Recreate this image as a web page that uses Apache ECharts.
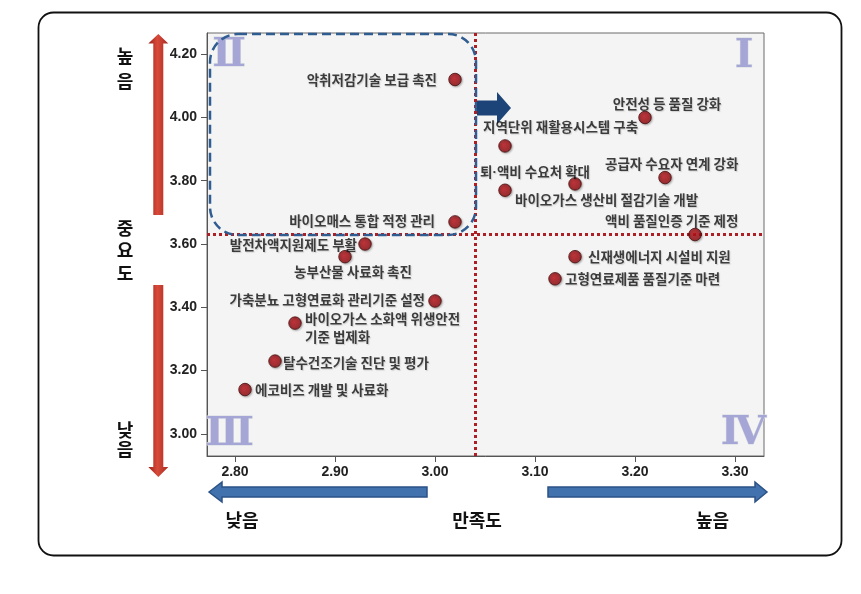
<!DOCTYPE html>
<html><head><meta charset="utf-8">
<script src="https://cdn.jsdelivr.net/npm/echarts@6/dist/echarts.min.js"></script>
<style>html,body{margin:0;padding:0;background:#fff}#c{width:861px;height:594px}</style>
</head><body><div id="c"></div>
<script>
// ---- data ----
const itemNames = [
  '악취저감기술 보급 촉진',
  '바이오매스 통합 적정 관리',
  '발전차액지원제도 부활',
  '농부산물 사료화 촉진',
  '가축분뇨 고형연료화 관리기준 설정',
  '바이오가스 소화액 위생안전\n기준 법제화',
  '탈수건조기술 진단 및 평가',
  '에코비즈 개발 및 사료화',
  '안전성 등 품질 강화',
  '지역단위 재활용시스템 구축',
  '퇴·액비 수요처 확대',
  '바이오가스 생산비 절감기술 개발',
  '공급자 수요자 연계 강화',
  '액비 품질인증 기준 제정',
  '신재생에너지 시설비 지원',
  '고형연료제품 품질기준 마련'
];
const satisfaction = [3.02, 3.02, 2.93, 2.91, 3.00, 2.86, 2.84, 2.81, 3.21, 3.07, 3.07, 3.14, 3.23, 3.26, 3.14, 3.12];
const importance   = [4.12, 3.67, 3.60, 3.56, 3.42, 3.35, 3.23, 3.14, 4.00, 3.91, 3.77, 3.79, 3.81, 3.63, 3.56, 3.49];
const xTicks = [2.8, 2.9, 3.0, 3.1, 3.2, 3.3];
const yTicks = [3.0, 3.2, 3.4, 3.6, 3.8, 4.0, 4.2];
const satisfactionMean = 3.04;
const importanceMean = 3.63;
const xTitle = '만족도', lowText = '낮음', highText = '높음', yTitle = '중요도';
const quadrantNames = ['Ⅰ', 'Ⅱ', 'Ⅲ', 'Ⅳ'];

// ---- label layout (px offsets from point centre) ----
const labelLayout = [
  {align:'right',  off:[-18, 0]},
  {align:'right',  off:[-20, -1]},
  {align:'right',  off:[-8, 1]},
  {align:'center', off:[8, 15]},
  {align:'right',  off:[-10, -1]},
  {align:'left',   off:[10, 5]},
  {align:'left',   off:[8, 2]},
  {align:'left',   off:[10, 0]},
  {align:'center', off:[22, -14]},
  {align:'left',   off:[-22, -19]},
  {align:'left',   off:[-25, -18]},
  {align:'left',   off:[-60, 16]},
  {align:'left',   off:[-60, -14]},
  {align:'left',   off:[-90, -14]},
  {align:'left',   off:[13, 0]},
  {align:'left',   off:[10, 0]}
];

const KR = '"Noto Sans CJK KR", "Noto Sans", sans-serif';
const chart = echarts.init(document.getElementById('c'), null, {renderer:'canvas'});

const points = itemNames.map((n, i) => ({
  name: n,
  value: [satisfaction[i], importance[i]],
  label: {
    show: true, formatter: n.replace('·', '{d|·}'), position: 'inside',
    align: labelLayout[i].align, verticalAlign: 'middle',
    offset: labelLayout[i].off,
    fontFamily: KR, fontSize: 13.5, fontWeight: 'bold', color: '#111',
    lineHeight: 18,
    textShadowColor: 'rgba(0,0,0,0.18)', textShadowBlur: 1, textShadowOffsetX: 1, textShadowOffsetY: 1,
    rich: { d: { fontFamily: '"Liberation Sans", Arial, sans-serif', fontSize: 13.5, fontWeight: 'bold', color: '#111' } }
  }
}));

const redGrad = new echarts.graphic.LinearGradient(0, 0, 1, 0, [
  {offset:0, color:'#9c1f18'}, {offset:0.45, color:'#d84a3a'}, {offset:1, color:'#a82a20'}
]);
const numStyle = (txt, x, y, fs) => ({
  type:'text', z: 3, x, y,
  style: { text: txt, fontFamily: '"DejaVu Serif", "Liberation Serif", serif', fontSize: fs, fontWeight:'bold',
    fill: '#a6a6d6', stroke: '#d6dce0', lineWidth: 1,
    align:'center', verticalAlign:'middle' }
});
const bigText = (txt, x, y, lh) => ({
  type:'text', z: 5, x, y,
  style: { text: txt, fontFamily: KR, fontSize: 18, fontWeight: 'bold', fill: '#111',
    align: 'center', verticalAlign: 'middle', lineHeight: lh }
});

const option = {
  backgroundColor: '#fff',
  animation: false,
  grid: { left: 207, top: 33, right: 97, bottom: 138, show: true,
    backgroundColor: '#f4f4f4', borderColor: '#6a6a6a', borderWidth: 1 },
  xAxis: {
    type: 'value', min: 2.772, max: 3.329,
    axisLine: { show: true, lineStyle: { color: '#555', width: 1 } },
    axisTick: { show: true, length: 6, customValues: xTicks, lineStyle: { color: '#555' } },
    axisLabel: { customValues: xTicks, formatter: v => v.toFixed(2), margin: 9,
      fontFamily: '"Liberation Sans", Arial, sans-serif', fontWeight: 'bold', fontSize: 14, color: '#222' },
    splitLine: { show: false }
  },
  yAxis: {
    type: 'value', min: 2.930, max: 4.267,
    axisLine: { show: true, lineStyle: { color: '#555', width: 1 } },
    axisTick: { show: true, length: 6, customValues: yTicks, lineStyle: { color: '#555' } },
    axisLabel: { customValues: yTicks, formatter: v => v.toFixed(2), margin: 10,
      fontFamily: '"Liberation Sans", Arial, sans-serif', fontWeight: 'bold', fontSize: 14, color: '#222' },
    splitLine: { show: false }
  },
  series: [{
    type: 'scatter', symbol: 'circle', symbolSize: 12.5, z: 10,
    itemStyle: {
      color: new echarts.graphic.RadialGradient(0.4, 0.4, 0.7, [
        {offset:0, color:'#c0141c'}, {offset:1, color:'#860a0e'}
      ]),
      borderColor: '#4a0c0c', borderWidth: 1,
      shadowBlur: 2, shadowColor: 'rgba(0,0,0,0.35)', shadowOffsetX: 1, shadowOffsetY: 1
    },
    data: points,
    markLine: {
      silent: true, symbol: ['none', 'none'], z: 5,
      label: { show: false },
      lineStyle: { type: 'dotted', color: '#ad1f25', width: 3 },
      data: [{ xAxis: satisfactionMean }, { yAxis: importanceMean }]
    }
  }],
  graphic: [
    { type:'rect', z: -10, shape:{x:38.5, y:12.5, width:803, height:543, r:15},
      style:{fill:'#fff', stroke:'#111', lineWidth:1.8} },
    numStyle(quadrantNames[1], 229, 56, 40),
    numStyle(quadrantNames[0], 744, 57, 40),
    numStyle(quadrantNames[2], 229.5, 435, 40),
    numStyle(quadrantNames[3], 743.5, 434, 40),
    { type:'rect', z: 8, shape:{x:210, y:34, width:266, height:201, r:28},
      style:{fill:'none', stroke:'#2f5d92', lineWidth:2.5, lineDash:[9,5]} },
    { type:'polygon', z: 8, shape:{points:[[477,100.5],[497,100.5],[497,92],[511,108],[497,124],[497,115.5],[477,115.5]]},
      style:{fill:'#1d4479'} },
    { type:'polygon', z: 5, shape:{points:[[158.3,34],[168.3,43.5],[163.3,43.5],[163.3,215],[153.3,215],[153.3,43.5],[148.3,43.5]]},
      style:{fill:redGrad} },
    { type:'polygon', z: 5, shape:{points:[[153.3,285],[163.3,285],[163.3,467],[168.3,467],[158.3,477],[148.3,467],[153.3,467]]},
      style:{fill:redGrad} },
    { type:'polygon', z: 5, shape:{points:[[209,492],[222,482],[222,487],[427,487],[427,497],[222,497],[222,502]]},
      style:{fill:'#4272ad', stroke:'#2b5287', lineWidth:1.5} },
    { type:'polygon', z: 5, shape:{points:[[548,487],[755,487],[755,482],[767,492],[755,502],[755,497],[548,497]]},
      style:{fill:'#4272ad', stroke:'#2b5287', lineWidth:1.5} },
    bigText(highText.split('').join('\n'), 125, 69, 25),
    bigText(yTitle.split('').join('\n'), 125, 250.5, 22.5),
    bigText(lowText.split('').join('\n'), 125, 440, 19),
    bigText(lowText, 242, 520),
    bigText(xTitle, 477, 520),
    bigText(highText, 712.5, 520)
  ]
};
chart.setOption(option);
</script>
</body></html>
